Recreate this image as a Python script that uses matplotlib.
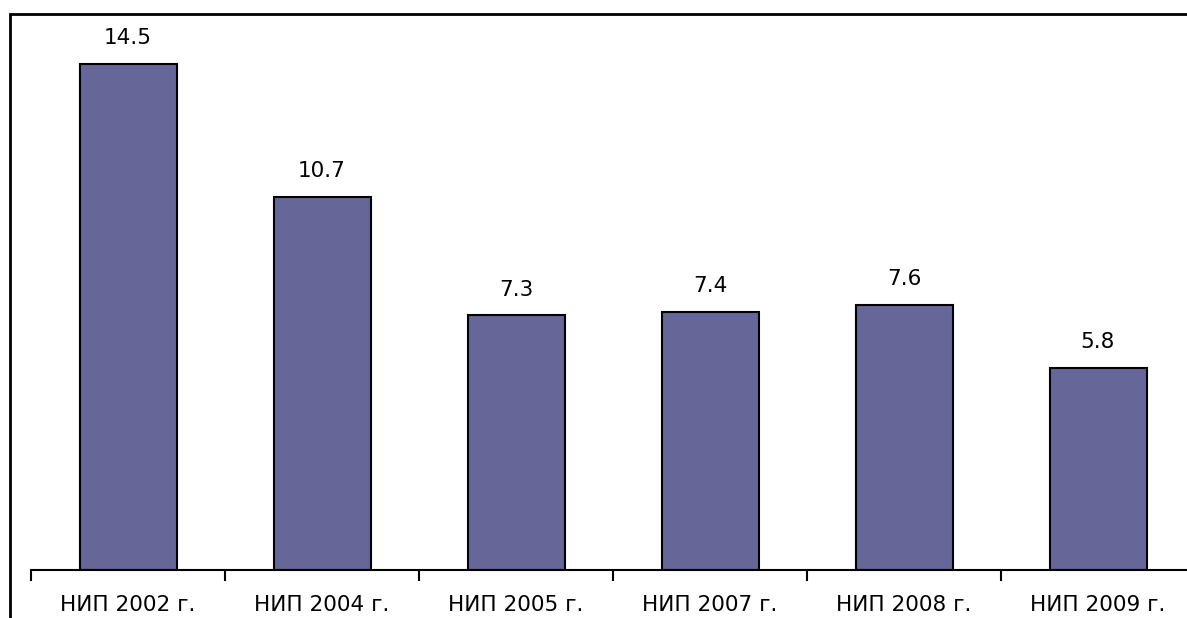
import matplotlib
matplotlib.use("Agg")
import matplotlib.pyplot as plt
from matplotlib.patches import Rectangle

categories = ["НИП 2002 г.", "НИП 2004 г.", "НИП 2005 г.",
              "НИП 2007 г.", "НИП 2008 г.", "НИП 2009 г."]
values = [14.5, 10.7, 7.3, 7.4, 7.6, 5.8]

W, H = 1187, 618
fig = plt.figure(figsize=(W / 100, H / 100), dpi=100)

# axes run past the right edge, like the source sheet
ax = fig.add_axes([31 / W, 48 / H, 1164 / W, 558 / H])
x = list(range(len(categories)))
ax.bar(x, values, width=0.5, color="#666699", edgecolor="black", linewidth=1.5)

for xi, v in zip(x, values):
    ax.text(xi, v + 0.45, "%.1f" % v, ha="center", va="bottom", fontsize=15.5)

ax.set_xlim(-0.5, len(categories) - 0.5)
ax.set_ylim(0, 558 / 34.9)
ax.set_yticks([])
for s in ["top", "right", "left"]:
    ax.spines[s].set_visible(False)
ax.spines["bottom"].set_linewidth(1.5)

# category labels centred, tick marks between categories
ax.set_xticks(x)
ax.set_xticklabels(categories, fontsize=15.5)
ax.tick_params(axis="x", which="major", length=0, pad=18)
ax.set_xticks([i - 0.5 for i in range(len(categories) + 1)], minor=True)
ax.tick_params(axis="x", which="minor", length=8, width=1.5, direction="out")

# outer frame around the chart
fig.patches.append(Rectangle((10 / W, -0.1), 1.2, (H - 14) / H + 0.1,
                             transform=fig.transFigure, fill=False,
                             edgecolor="black", linewidth=2, zorder=0))

fig.savefig("out.png", dpi=100)
